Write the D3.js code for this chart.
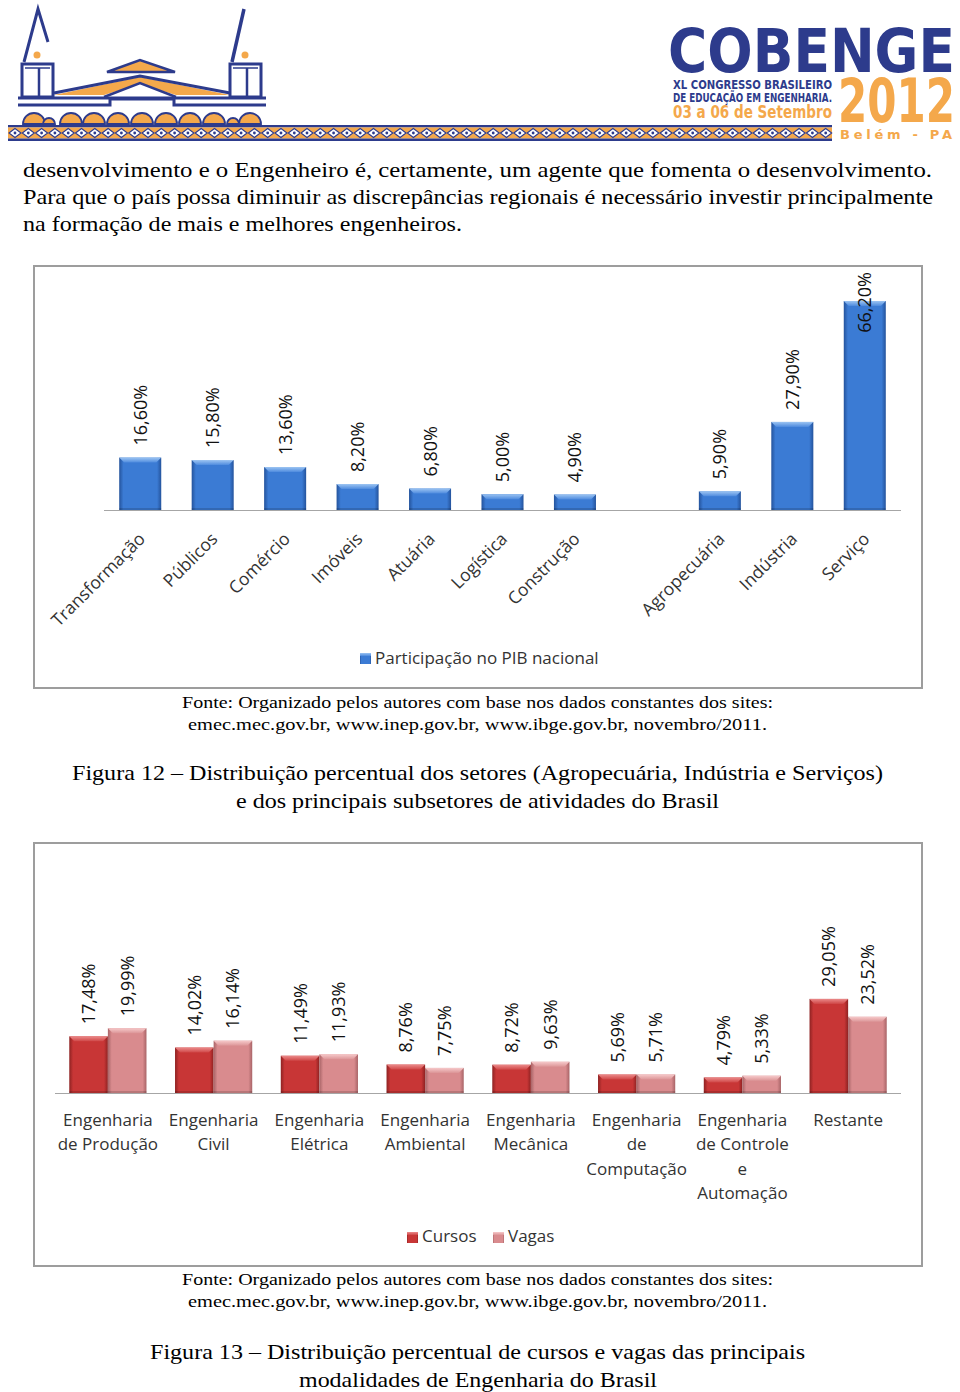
<!DOCTYPE html>
<html><head><meta charset="utf-8">
<script src="https://cdn.jsdelivr.net/npm/d3@7"></script>
<style>html,body{margin:0;padding:0;background:#fff;}svg{display:block;}</style>
</head><body>
<script>
// ---------- DATA ----------
const sectors = ["Transformação","Públicos","Comércio","Imóveis","Atuária","Logística","Construção","","Agropecuária","Indústria","Serviço"];
const pibShare = [16.6,15.8,13.6,8.2,6.8,5.0,4.9,null,5.9,27.9,66.2];
const pibSeries = "Participação no PIB nacional";

const courses = ["Engenharia de Produção","Engenharia Civil","Engenharia Elétrica","Engenharia Ambiental","Engenharia Mecânica","Engenharia de Computação","Engenharia de Controle e Automação","Restante"];
const courseLines = [["Engenharia","de Produção"],["Engenharia","Civil"],["Engenharia","Elétrica"],["Engenharia","Ambiental"],["Engenharia","Mecânica"],["Engenharia","de","Computação"],["Engenharia","de Controle","e","Automação"],["Restante"]];
const cursos = [17.48,14.02,11.49,8.76,8.72,5.69,4.79,29.05];
const vagas = [19.99,16.14,11.93,7.75,9.63,5.71,5.33,23.52];
const series2 = ["Cursos","Vagas"];

const bodyLines = [
 "desenvolvimento e o Engenheiro é, certamente, um agente que fomenta o desenvolvimento.",
 "Para que o país possa diminuir as discrepâncias regionais é necessário investir principalmente",
 "na formação de mais e melhores engenheiros."];
const fonteLines = ["Fonte: Organizado pelos autores com base nos dados constantes dos sites:",
 "emec.mec.gov.br, www.inep.gov.br, www.ibge.gov.br, novembro/2011."];
const fig12 = ["Figura 12 – Distribuição percentual dos setores (Agropecuária, Indústria e Serviços)",
 "e dos principais subsetores de atividades do Brasil"];
const fig13 = ["Figura 13 – Distribuição percentual de cursos e vagas das principais",
 "modalidades de Engenharia do Brasil"];

const fmt = v => v.toFixed(2).replace(".", ",") + "%";

// ---------- SVG ----------
const W = 960, H = 1392;
const svg = d3.select("body").append("svg").attr("width", W).attr("height", H);
svg.append("rect").attr("width", W).attr("height", H).attr("fill", "#fff");
const defs = svg.append("defs");

function hGrad(id, edge, mid) {
  const g = defs.append("linearGradient").attr("id", id).attr("x1", "0").attr("x2", "1").attr("y1", "0").attr("y2", "0");
  [[0, edge],[0.1, mid],[0.9, mid],[1, edge]].forEach(([o,c]) => g.append("stop").attr("offset", o).attr("stop-color", c));
}
function vGrad(id, a, b) {
  const g = defs.append("linearGradient").attr("id", id).attr("x1", "0").attr("x2", "0").attr("y1", "0").attr("y2", "1");
  g.append("stop").attr("offset", 0).attr("stop-color", a);
  g.append("stop").attr("offset", 1).attr("stop-color", b);
}
hGrad("blueH", "#24539c", "#3b7bd4");
vGrad("blueT", "#9cc4f2", "#4d8ade");
hGrad("redH", "#8e2222", "#c83636");
vGrad("redT", "#eb8a8a", "#cf4646");
hGrad("pinkH", "#a86467", "#d98b8e");
vGrad("pinkT", "#f6c9ca", "#dc9597");

const NAVY = "#2d3b8c", ORANGE = "#f4a84b";

// ---------- HEADER ----------
const hdr = svg.append("g");
[[34,11],[49,6],[71,11],[94,11],[118,11],[142,11],[166,11],[190,11],[214,11],[233,6],[250,11]].forEach(([cx,r]) => {
  hdr.append("path").attr("d", `M${cx-r},124 A${r},${r} 0 0 1 ${cx+r},124 Z`)
    .attr("fill", ORANGE).attr("stroke", NAVY).attr("stroke-width", 1.8);
});
function band(x0, x1) {
  hdr.append("rect").attr("x", x0).attr("y", 125).attr("width", x1-x0).attr("height", 2.5).attr("fill", NAVY);
  hdr.append("rect").attr("x", x0).attr("y", 127.5).attr("width", x1-x0).attr("height", 11).attr("fill", ORANGE);
  hdr.append("rect").attr("x", x0).attr("y", 138.5).attr("width", x1-x0).attr("height", 2.5).attr("fill", NAVY);
  for (let x = x0 + 7; x < x1 - 4; x += 13.3) {
    hdr.append("path").attr("d", `M${x-6},133 L${x},128.5 L${x+6},133 L${x},137.5 Z`)
      .attr("fill", "#fff").attr("stroke", NAVY).attr("stroke-width", 1.1);
    hdr.append("circle").attr("cx", x).attr("cy", 133).attr("r", 1.4).attr("fill", NAVY);
  }
}
band(8, 300);
band(300, 832);
hdr.append("polygon").attr("points", "54,95 140,77 230,95 176,95 140,84 104,95").attr("fill", ORANGE);
hdr.append("path").attr("d", "M54,93 L140,76 L230,93").attr("fill", "none").attr("stroke", NAVY).attr("stroke-width", 3);
hdr.append("path").attr("d", "M104,97 L140,83 L176,97").attr("fill", "none").attr("stroke", NAVY).attr("stroke-width", 2.5);
hdr.append("polygon").attr("points", "107,72 140,60 175,72").attr("fill", ORANGE).attr("stroke", NAVY).attr("stroke-width", 2.5);
hdr.append("path").attr("d", "M18,98 L266,98").attr("stroke", NAVY).attr("stroke-width", 3);
hdr.append("path").attr("d", "M18,105 L110,105 L110,99 L174,99 L174,105 L266,105").attr("fill", "none").attr("stroke", NAVY).attr("stroke-width", 3);
[[22,37],[230,245]].forEach(([x, sx]) => {
  hdr.append("rect").attr("x", x).attr("y", 64).attr("width", 31).attr("height", 33).attr("fill", "#fff").attr("stroke", NAVY).attr("stroke-width", 3);
  hdr.append("path").attr("d", `M${x+3},68 L${x+28},68`).attr("stroke", NAVY).attr("stroke-width", 1.5);
  hdr.append("path").attr("d", `M${x+17},68 L${x+17},97`).attr("stroke", NAVY).attr("stroke-width", 2.5);
  hdr.append("circle").attr("cx", sx).attr("cy", 55).attr("r", 3.5).attr("fill", ORANGE);
});
hdr.append("path").attr("d", "M24,62 L38,9 L48,42").attr("fill", "none").attr("stroke", NAVY).attr("stroke-width", 3);
hdr.append("path").attr("d", "M232,62 L244,9").attr("fill", "none").attr("stroke", NAVY).attr("stroke-width", 3.5);

function logoText(t, x, y, size, w, color, sy) {
  hdr.append("text").attr("font-family", "'DejaVu Sans', sans-serif").attr("font-weight", "bold")
    .attr("font-size", size).attr("fill", color).attr("textLength", w).attr("lengthAdjust", "spacingAndGlyphs")
    .attr("transform", `translate(${x},${y}) scale(1,${sy || 1})`).text(t);
}
logoText("COBENGE", 668, 72, 48, 287, NAVY, 1.25);
logoText("XL CONGRESSO BRASILEIRO", 673, 89, 11, 159, NAVY, 1.12);
logoText("DE EDUCAÇÃO EM ENGENHARIA.", 673, 102, 11, 159, NAVY, 1.12);
logoText("03 a 06 de Setembro", 673, 118, 14, 159, ORANGE, 1.2);
logoText("2012", 838, 122, 46, 117, ORANGE, 1.3);
hdr.append("text").attr("x", 840).attr("y", 139).attr("font-family", "'DejaVu Sans', sans-serif").attr("font-weight", "bold")
  .attr("font-size", 13).attr("fill", ORANGE).attr("textLength", 112).attr("lengthAdjust", "spacing").text("Belém - PA");

// ---------- SERIF TEXT ----------
const SERIF = "'Liberation Serif', 'Times New Roman', Times, serif";
function serif(t, x, y, size, w) {
  const el = svg.append("text").attr("x", x).attr("y", y).attr("font-family", SERIF).attr("font-size", size)
    .attr("fill", "#000").text(t);
  if (w) el.attr("textLength", w).attr("lengthAdjust", "spacingAndGlyphs");
  return el;
}
serif(bodyLines[0], 23, 177, 21.5, 909);
serif(bodyLines[1], 23, 204, 21.5, 910);
serif(bodyLines[2], 23, 231, 21.5, 439);
[[708,730],[1285,1307]].forEach(([a,b]) => {
  serif(fonteLines[0], 182, a, 17.5, 591);
  serif(fonteLines[1], 188, b, 17.5, 579);
});
serif(fig12[0], 72, 780, 21.5, 811);
serif(fig12[1], 236, 808, 21.5, 483);
serif(fig13[0], 150, 1359, 21.5, 655);
serif(fig13[1], 299, 1387, 21.5, 358);

// ---------- BAR HELPER ----------
function bevelBar(g, x, y, w, h, gradH, gradT) {
  if (h <= 0) return;
  g.append("rect").attr("x", x).attr("y", y).attr("width", w).attr("height", h).attr("fill", `url(#${gradH})`);
  const b = Math.min(5, h / 2);
  g.append("polygon").attr("points", `${x},${y} ${x+w},${y} ${x+w-b},${y+b} ${x+b},${y+b}`).attr("fill", `url(#${gradT})`);
  g.append("rect").attr("x", x).attr("y", y + h - 2).attr("width", w).attr("height", 2).attr("fill", "#000").attr("opacity", 0.15);
}
const SANS = "'Open Sans', sans-serif";

// ---------- CHART 1 ----------
const c1 = svg.append("g");
c1.append("rect").attr("x", 34).attr("y", 266).attr("width", 888).attr("height", 422)
  .attr("fill", "#fff").attr("stroke", "#9d9d9d").attr("stroke-width", 2);
const x1 = d3.scaleBand().domain(sectors).range([104, 901]).paddingInner(0.42).paddingOuter(0.21);
const y1 = d3.scaleLinear().domain([0, 70]).range([510, 289]);
const bars1 = c1.append("g");
sectors.forEach((s, i) => {
  const v = pibShare[i];
  if (v == null) return;
  bevelBar(bars1, x1(s), y1(v), x1.bandwidth(), y1(0) - y1(v), "blueH", "blueT");
});
c1.append("line").attr("x1", 104).attr("x2", 901).attr("y1", 510.5).attr("y2", 510.5).attr("stroke", "#a6a6a6").attr("stroke-width", 1.2);
sectors.forEach((s, i) => {
  const v = pibShare[i];
  if (v == null) return;
  const cx = x1(s) + x1.bandwidth() / 2;
  const t = c1.append("text").attr("font-family", SANS).attr("font-size", 18).attr("fill", "#111")
    .attr("dy", "0.36em").text(fmt(v));
  const len = t.node().getComputedTextLength();
  let yb = y1(v) - 12;
  if (yb - len < 272) yb = 272 + len;
  t.attr("transform", `translate(${cx},${yb}) rotate(-90)`);
});
sectors.forEach(s => {
  if (!s) return;
  const cx = x1(s) + x1.bandwidth() / 2;
  c1.append("text").attr("font-family", SANS).attr("font-size", 17.5).attr("fill", "#333")
    .attr("text-anchor", "end").attr("transform", `translate(${cx + 6},${540}) rotate(-45)`).text(s);
});
c1.append("rect").attr("x", 360).attr("y", 653).attr("width", 11).attr("height", 11).attr("fill", "url(#blueH)");
c1.append("rect").attr("x", 360).attr("y", 653).attr("width", 11).attr("height", 3).attr("fill", "url(#blueT)");
c1.append("text").attr("x", 375).attr("y", 664).attr("font-family", SANS).attr("font-size", 17).attr("fill", "#333").text(pibSeries);

// ---------- CHART 2 ----------
const c2 = svg.append("g");
c2.append("rect").attr("x", 34).attr("y", 843).attr("width", 888).attr("height", 423)
  .attr("fill", "#fff").attr("stroke", "#9d9d9d").attr("stroke-width", 2);
const x2 = d3.scaleBand().domain(courses).range([55, 901]).paddingInner(0.27).paddingOuter(0.135);
const xs = d3.scaleBand().domain(series2).range([0, x2.bandwidth()]);
const y2 = d3.scaleLinear().domain([0, 35]).range([1093, 1093 - 35 * 3.24]);
const vals2 = { Cursos: cursos, Vagas: vagas };
const grads2 = { Cursos: ["redH", "redT"], Vagas: ["pinkH", "pinkT"] };
const bars2 = c2.append("g");
courses.forEach((c, i) => {
  series2.forEach(s => {
    const v = vals2[s][i];
    bevelBar(bars2, x2(c) + xs(s), y2(v), xs.bandwidth(), y2(0) - y2(v), grads2[s][0], grads2[s][1]);
  });
});
c2.append("line").attr("x1", 55).attr("x2", 901).attr("y1", 1093.5).attr("y2", 1093.5).attr("stroke", "#a6a6a6").attr("stroke-width", 1.2);
courses.forEach((c, i) => {
  series2.forEach(s => {
    const v = vals2[s][i];
    const cx = x2(c) + xs(s) + xs.bandwidth() / 2;
    c2.append("text").attr("font-family", SANS).attr("font-size", 18).attr("fill", "#111").attr("dy", "0.36em")
      .attr("transform", `translate(${cx},${y2(v) - 12}) rotate(-90)`).text(fmt(v));
  });
  const t = c2.append("text").attr("font-family", SANS).attr("font-size", 17).attr("fill", "#333").attr("text-anchor", "middle");
  courseLines[i].forEach((ln, k) => {
    t.append("tspan").attr("x", x2(c) + x2.bandwidth() / 2).attr("y", 1126 + k * 24.3).text(ln);
  });
});
[["Cursos", 407, 422], ["Vagas", 493, 508]].forEach(([s, sx, tx]) => {
  c2.append("rect").attr("x", sx).attr("y", 1232).attr("width", 11).attr("height", 11).attr("fill", `url(#${grads2[s][0]})`);
  c2.append("rect").attr("x", sx).attr("y", 1232).attr("width", 11).attr("height", 3).attr("fill", `url(#${grads2[s][1]})`);
  c2.append("text").attr("x", tx).attr("y", 1242).attr("font-family", SANS).attr("font-size", 17).attr("fill", "#333").text(s);
});
</script>
</body></html>
